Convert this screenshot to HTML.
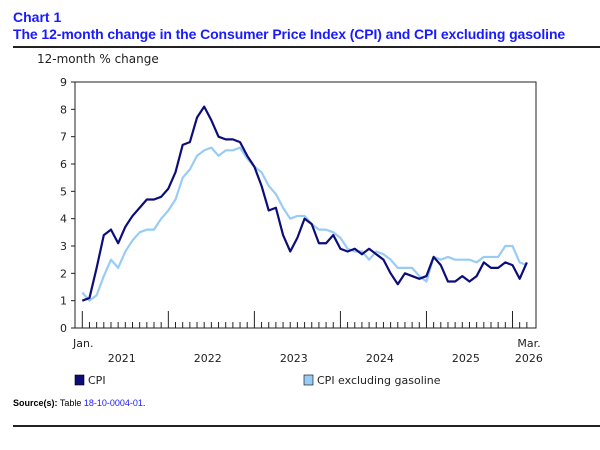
<!DOCTYPE html>
<html><head><meta charset="utf-8"><style>
body{margin:0;background:#fff;width:600px;height:450px;overflow:hidden;font-family:"DejaVu Sans","Liberation Sans",sans-serif}
.t{position:absolute;font-family:"Liberation Sans",Arial,sans-serif;font-weight:bold;color:#1a1aff;font-size:14px;left:13px}
</style></head><body>
<div class="t" style="top:9px">Chart 1</div>
<div class="t" style="top:26px;letter-spacing:-0.1px">The 12-month change in the Consumer Price Index (CPI) and CPI excluding gasoline</div>
<div style="position:absolute;left:13px;top:46px;width:587px;height:2px;background:#222"></div>
<svg id="c" width="600" height="450" style="position:absolute;left:0;top:0"></svg>
<div style="position:absolute;left:13px;top:398px;font-family:'Liberation Sans',sans-serif;font-size:9px;color:#000"><b>Source(s):</b> Table <span style="color:#1a1aff">18-10-0004-01</span>.</div>
<div style="position:absolute;left:13px;top:425px;width:587px;height:2px;background:#222"></div>
<script>
const yTicks=[0,1,2,3,4,5,6,7,8,9];
const years=["2021","2022","2023","2024","2025","2026"];
const cpi=[1.0,1.1,2.2,3.4,3.6,3.1,3.7,4.1,4.4,4.7,4.7,4.8,
5.1,5.7,6.7,6.8,7.7,8.1,7.6,7.0,6.9,6.9,6.8,6.3,
5.9,5.2,4.3,4.4,3.4,2.8,3.3,4.0,3.8,3.1,3.1,3.4,
2.9,2.8,2.9,2.7,2.9,2.7,2.5,2.0,1.6,2.0,1.9,1.8,
1.9,2.6,2.3,1.7,1.7,1.9,1.7,1.9,2.4,2.2,2.2,2.4,
2.3,1.8,2.4];
const exGas=[1.3,1.0,1.2,1.9,2.5,2.2,2.8,3.2,3.5,3.6,3.6,4.0,
4.3,4.7,5.5,5.8,6.3,6.5,6.6,6.3,6.5,6.5,6.6,6.2,
5.9,5.7,5.2,4.9,4.4,4.0,4.1,4.1,3.8,3.6,3.6,3.5,
3.3,2.9,2.8,2.8,2.5,2.8,2.7,2.5,2.2,2.2,2.2,1.9,
1.7,2.6,2.5,2.6,2.5,2.5,2.5,2.4,2.6,2.6,2.6,3.0,
3.0,2.4,2.3];
const NS="http://www.w3.org/2000/svg",svg=document.getElementById('c');
function el(t,a,txt){const e=document.createElementNS(NS,t);for(const k in a)e.setAttribute(k,a[k]);if(txt!=null)e.textContent=txt;svg.appendChild(e);return e;}
const L=75,R=536,T=82,B=328,x0=82.3,dm=7.17;
const X=i=>x0+i*dm, Y=v=>B-(v/9)*(B-T);
let e=el('rect',{x:L,y:T,width:R-L,height:B-T,fill:'none',stroke:'#222','stroke-width':1});

e=el('text',{x:37,y:63,'font-size':12,fill:'#222'},'12-month % change');

yTicks.forEach(v=>{
 let t=el('text',{x:67,y:Y(v)+4,'font-size':11,fill:'#222','text-anchor':'end'},String(v));
 
 let l=el('line',{x1:L-4,x2:L,y1:Y(v),y2:Y(v),stroke:'#222'});
 
});
for(let i=0;i<cpi.length;i++){
 const maj=i%12==0;
 let l=el('line',{x1:X(i),x2:X(i),y1:maj?B-17:B-6,y2:B,stroke:'#222','stroke-width':1});
 
}
e=el('text',{x:73,y:347,'font-size':11,fill:'#222'},'Jan.');
e=el('text',{x:529,y:347,'font-size':11,fill:'#222','text-anchor':'middle'},'Mar.');
years.forEach((y,k)=>{
 const cx=k<5?X(k*12+5.5):X(cpi.length-1)+2;
 let t=el('text',{x:cx,y:362,'font-size':11,fill:'#222','text-anchor':'middle'},y);
 
});
function line(d,c,n){let p=el('polyline',{points:d.map((v,i)=>X(i)+','+Y(v)).join(' '),fill:'none',stroke:c,'stroke-width':2.2,'stroke-linejoin':'round'});
 }
line(exGas,'#99ccf5','cpi-ex-gasoline-line');
line(cpi,'#0d0d7a','cpi-line');
e=el('rect',{x:75,y:375,width:9,height:10,fill:'#0d0d7a',stroke:'#000','stroke-width':0.6});
e=el('text',{x:88,y:384,'font-size':11,fill:'#222'},'CPI');
e=el('rect',{x:304,y:375,width:9,height:10,fill:'#99ccf5',stroke:'#000','stroke-width':0.6});
e=el('text',{x:317,y:384,'font-size':11,fill:'#222'},'CPI excluding gasoline');
</script>
</body></html>
